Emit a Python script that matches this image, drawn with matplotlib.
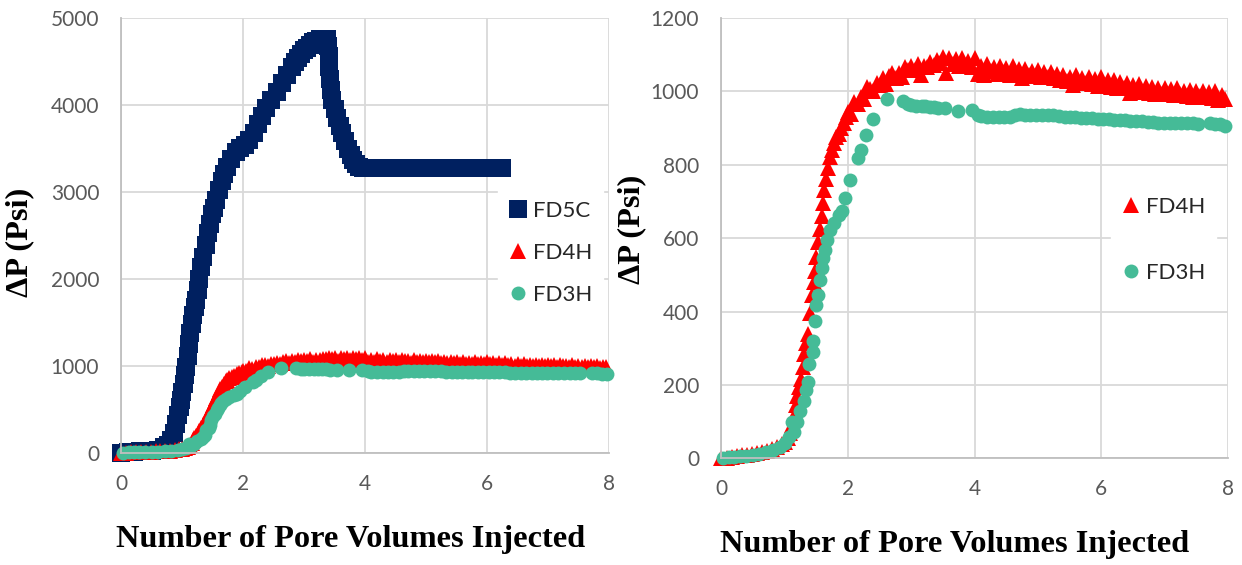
import numpy as np
import matplotlib
matplotlib.use("Agg")
import matplotlib.pyplot as plt

# ---------------------------------------------------------------------------
# data (pore volumes injected vs. dP in psi)
fd5c_x = [0.0, 0.1, 0.2, 0.3, 0.4, 0.5, 0.6, 0.7, 0.76, 0.82, 0.86, 0.9, 0.93,
          0.96, 0.98, 1.0, 1.02, 1.045, 1.065, 1.085, 1.11, 1.13, 1.155, 1.18,
          1.2, 1.225, 1.25, 1.28, 1.31, 1.34, 1.38, 1.415, 1.45, 1.49, 1.52,
          1.555, 1.6, 1.65, 1.69, 1.73, 1.8, 1.88, 1.95, 2.03, 2.1, 2.17, 2.24,
          2.31, 2.38, 2.46, 2.55, 2.64, 2.72, 2.8, 2.85, 2.9, 2.95, 3.0, 3.05,
          3.1, 3.15, 3.2, 3.26, 3.32, 3.38, 3.39, 3.4, 3.41, 3.43, 3.445, 3.46,
          3.5, 3.54, 3.58, 3.62, 3.67, 3.71, 3.76, 3.8, 3.85, 3.9, 3.96, 4.05,
          4.2, 4.35, 4.5, 4.65, 4.8, 4.95, 5.1, 5.25, 5.4, 5.55, 5.7, 5.85, 6.0,
          6.15, 6.25]
fd5c_y = [0, 5, 10, 15, 20, 25, 35, 60, 90, 150, 230, 330, 430,
          530, 610, 700, 790, 890, 990, 1110, 1250, 1380, 1480, 1580,
          1670, 1760, 1870, 2000, 2140, 2250, 2390, 2530, 2630, 2740, 2820,
          2910, 3020, 3120, 3210, 3290, 3380, 3460, 3500, 3540, 3600, 3680, 3780,
          3870, 3960, 4060, 4150, 4250, 4340, 4440, 4490, 4540, 4590, 4630, 4660,
          4690, 4720, 4740, 4760, 4760, 4760, 4680, 4560, 4440, 4300, 4170, 4060,
          3950, 3850, 3760, 3680, 3580, 3490, 3420, 3370, 3320, 3290, 3280, 3270,
          3270, 3270, 3270, 3270, 3270, 3270, 3270, 3270, 3270, 3270, 3270, 3270, 3270,
          3270, 3270]

fd4h_x = [0.0, 0.08, 0.16, 0.24, 0.32, 0.4, 0.48, 0.56, 0.64, 0.72, 0.8, 0.88,
          0.95, 1.0, 1.05, 1.09, 1.12, 1.15, 1.17, 1.19, 1.22, 1.25, 1.28, 1.31,
          1.34, 1.37, 1.4, 1.43, 1.46, 1.48, 1.5, 1.53, 1.55, 1.58, 1.6, 1.62,
          1.65, 1.68, 1.71, 1.74, 1.77, 1.81, 1.85, 1.89, 1.93, 1.97,
          2.0, 2.05, 2.1, 2.15, 2.2, 2.25, 2.3, 2.35, 2.4, 2.45, 2.5, 2.55, 2.6,
          2.65, 2.7, 2.75, 2.8, 2.85, 2.9, 2.95, 3.0, 3.05, 3.1, 3.15, 3.2, 3.25,
          3.3, 3.35, 3.4, 3.45, 3.5, 3.55, 3.6, 3.65, 3.7, 3.75, 3.8, 3.85, 3.9,
          3.95, 4.0, 4.05, 4.1, 4.15, 4.2, 4.25, 4.3, 4.35, 4.4, 4.45, 4.5, 4.55,
          4.6, 4.65, 4.7, 4.75, 4.8, 4.85, 4.9, 4.95, 5.0, 5.05, 5.1, 5.15, 5.2,
          5.25, 5.3, 5.35, 5.4, 5.45, 5.5, 5.55, 5.6, 5.65, 5.7, 5.75, 5.8, 5.85,
          5.9, 5.95, 6.0, 6.05, 6.1, 6.15, 6.2, 6.25, 6.3, 6.35, 6.4, 6.45, 6.5,
          6.55, 6.6, 6.65, 6.7, 6.75, 6.8, 6.85, 6.9, 6.95, 7.0, 7.05, 7.1, 7.15,
          7.2, 7.25, 7.3, 7.35, 7.4, 7.45, 7.5, 7.55, 7.6, 7.65, 7.7, 7.75, 7.8,
          7.85, 7.9, 7.95]
fd4h_y = [0, 2, 4, 6, 8, 10, 12, 14, 17, 20, 25, 30,
          38, 45, 55, 70, 90, 115, 145, 170, 195, 215, 250, 285,
          315, 340, 395, 445, 480, 510, 550, 590, 625, 660, 695, 730,
          760, 790, 820, 840, 860, 875, 885, 900, 915, 930,
          943, 939, 970, 966, 984, 980, 1012, 1006, 1002, 1022, 1018, 1037, 1020,
          1041, 1049, 1037, 1051, 1040, 1067, 1057, 1068, 1058, 1074, 1044, 1070, 1066,
          1080, 1072, 1086, 1078, 1094, 1050, 1090, 1074, 1088, 1070, 1092, 1072, 1084,
          1066, 1090, 1048, 1070, 1046, 1074, 1056, 1066, 1048, 1070, 1052, 1064, 1046,
          1068, 1050, 1060, 1036, 1062, 1044, 1056, 1042, 1058, 1040, 1052, 1038, 1054,
          1036, 1048, 1032, 1046, 1028, 1040, 1018, 1044, 1024, 1036, 1022, 1040, 1020,
          1034, 1016, 1038, 1018, 1030, 1012, 1032, 1010, 1026, 1008, 1024, 996, 1018,
          1000, 1020, 998, 1014, 996, 1012, 994, 1010, 992, 1008, 992, 1006, 990,
          1008, 992, 1002, 988, 1004, 986, 1000, 988, 1002, 984, 998, 982, 1000,
          976, 990, 980]

fd3h_x = [0.03, 0.12, 0.2, 0.29, 0.38, 0.5, 0.6, 0.71, 0.82, 0.92, 1.0, 1.06,
          1.11, 1.14, 1.19, 1.24, 1.3, 1.33, 1.37, 1.39, 1.44, 1.45, 1.47, 1.5,
          1.53, 1.56, 1.58, 1.61, 1.64, 1.66, 1.71, 1.77, 1.85, 1.9, 1.95, 2.03,
          2.16, 2.21, 2.29, 2.4, 2.61, 2.86, 2.95, 3.0, 3.08, 3.16, 3.22, 3.29,
          3.36, 3.42, 3.53, 3.74, 3.95, 4.05, 4.1, 4.2, 4.29, 4.38, 4.46, 4.55,
          4.63, 4.71, 4.8, 4.88, 4.97, 5.06, 5.15, 5.24, 5.33, 5.42, 5.5, 5.59,
          5.68, 5.76, 5.85, 5.94, 6.03, 6.12, 6.2, 6.29, 6.38, 6.46, 6.55, 6.64,
          6.73, 6.82, 6.9, 6.99, 7.08, 7.17, 7.26, 7.36, 7.45, 7.52, 7.72, 7.8,
          7.88, 7.96]
fd3h_y = [2, 3, 4, 5, 7, 9, 13, 18, 24, 31, 42, 58,
          99, 72, 100, 130, 157, 185, 207, 258, 289, 320, 375, 418,
          445, 486, 518, 545, 568, 595, 623, 641, 664, 673, 709, 759,
          818, 839, 882, 925, 979, 973, 965, 962, 960, 960, 960, 958,
          957, 955, 956, 947, 948, 935, 933, 930, 930, 930, 930, 931,
          935, 938, 937, 936, 936, 936, 936, 936, 933, 931, 930, 929,
          928, 928, 927, 926, 925, 924, 923, 923, 921, 920, 919, 918,
          917, 916, 915, 915, 915, 914, 913, 913, 913, 912, 915, 912,
          910, 905]

x_ticks = [0, 2, 4, 6, 8]
left_yticks = [0, 1000, 2000, 3000, 4000, 5000]
right_yticks = [0, 200, 400, 600, 800, 1000, 1200]

navy = "#002060"
red = "#FF0000"
teal = "#45BB97"
grid_c = "#D9D9D9"
tick_c = "#595959"

fig = plt.figure(figsize=(12.42, 5.65), dpi=100)
ax1 = fig.add_axes([0.0978, 0.1988, 0.3925, 0.7694])
ax2 = fig.add_axes([0.5809, 0.1888, 0.4078, 0.7793])

label_font = dict(family="Liberation Serif", weight="bold", size=23.3)
leg_opts = dict(loc="upper left", borderaxespad=0, frameon=True, fancybox=False,
                edgecolor="white", framealpha=1, handlelength=0.8,
                handletextpad=0.27, borderpad=0.5, prop=dict(family="Lato", size=16))


def style(ax, yticks):
    ax.set_xlim(0, 8)
    ax.set_ylim(yticks[0], yticks[-1])
    ax.set_xticks(x_ticks)
    ax.set_yticks(yticks)
    ax.grid(True, color=grid_c, linewidth=1.3)
    ax.set_axisbelow(True)
    for s in ["top", "right"]:
        ax.spines[s].set_visible(False)
    for s in ["left", "bottom"]:
        ax.spines[s].set_color("#BFBFBF")
        ax.spines[s].set_linewidth(1.3)
    ax.tick_params(length=0, labelcolor=tick_c, labelsize=15)
    ax.tick_params(axis="x", pad=15)
    ax.tick_params(axis="y", pad=16)
    for t in ax.get_xticklabels() + ax.get_yticklabels():
        t.set_family("Lato")
    ax.set_xlabel("Number of Pore Volumes Injected", **label_font)
    ax.set_ylabel("\u0394P (Psi)", **label_font)
    ax.xaxis.label.set_va("center")
    ax.yaxis.label.set_va("center")


# left chart
ax1.plot(fd5c_x, fd5c_y, "s", color=navy, ms=13.5, mew=0, clip_on=False, label="FD5C")
ax1.plot(fd4h_x, fd4h_y, "^", color=red, ms=11.5, mew=0, clip_on=False, label="FD4H")
ax1.plot(fd3h_x, fd3h_y, "o", color=teal, ms=10, mew=0, clip_on=False, label="FD3H")
style(ax1, left_yticks)
ax1.xaxis.set_label_coords(0.469, -0.20)
ax1.yaxis.set_label_coords(-0.208, 0.484)
leg1 = ax1.legend(bbox_to_anchor=(0.772, 0.604), labelspacing=0.98, **leg_opts)

# right chart
ax2.plot(fd4h_x, fd4h_y, "^", color=red, ms=11.5, mew=0, clip_on=False, label="FD4H")
ax2.plot(fd3h_x, fd3h_y, "o", color=teal, ms=10, mew=0, clip_on=False, label="FD3H")
style(ax2, right_yticks)
ax2.xaxis.set_label_coords(0.46, -0.195)
ax2.yaxis.set_label_coords(-0.177, 0.52)
leg2 = ax2.legend(bbox_to_anchor=(0.769, 0.619), labelspacing=2.08, **leg_opts)
for leg in (leg1, leg2):
    for t in leg.get_texts():
        t.set_color("#262626")

fig.savefig("out.png", dpi=100)
